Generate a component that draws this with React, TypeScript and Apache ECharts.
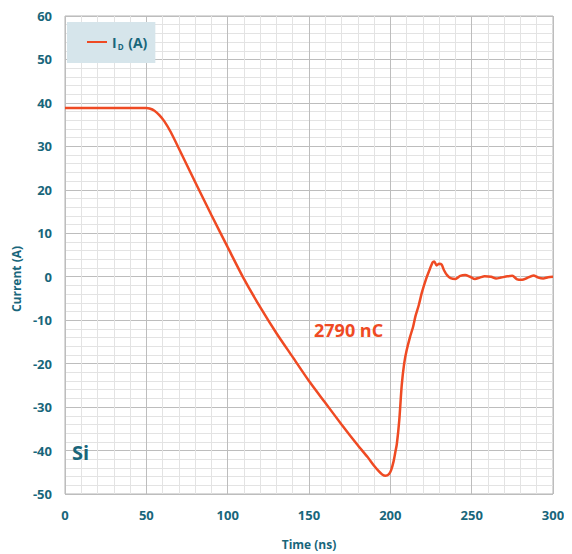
import React, { useEffect, useRef } from "react";
import * as echarts from "echarts";

const timeNs = [
  0, 10, 20, 30, 40, 50, 52, 55, 58, 61, 65, 70, 80, 90, 100, 110, 120, 130, 140, 150,
  160, 170, 180, 186, 190, 193, 195, 197, 199, 200.5, 202, 203, 204, 205.5, 207, 208.5,
  210, 212, 214, 215.5, 217.5, 219.5, 222, 224, 226, 227, 228.5, 230, 231.5, 233, 235,
  237, 240, 243, 246, 249, 252, 255, 258, 262, 265, 268, 272, 275, 278, 281, 284, 288,
  291, 294, 297, 300,
];
const currentA = [
  38.8, 38.8, 38.8, 38.8, 38.8, 38.8, 38.7, 38.2, 37.2, 35.8, 33.3, 29.5, 21.8, 14.2, 6.8,
  -0.5, -7, -13, -18.5, -24, -29, -34, -38.8, -41.5, -43.5, -44.8, -45.5, -45.8, -45.5,
  -44.5, -42.5, -40.5, -38.5, -33, -25, -20, -17, -14, -11.5, -9, -6.5, -3.5, -0.5, 1.5,
  3.3, 3.5, 2.6, 3.0, 2.8, 1.5, 0.3, -0.3, -0.5, 0.2, 0.4, 0.0, -0.5, -0.2, 0.1, 0,
  -0.4, -0.2, 0.1, 0.2, -0.6, -0.7, -0.3, 0.3, -0.2, -0.4, -0.1, 0,
];
const seriesName = "ID (A)";
const chargeLabel = "2790 nC";
const materialLabel = "Si";

const TEAL = "#18667b";
const ORANGE = "#ef4a23";
const FONT = "'Open Sans', 'Noto Sans', sans-serif";

export default function App() {
  const ref = useRef<HTMLDivElement>(null);
  useEffect(() => {
    if (!ref.current) return;
    const chart = echarts.init(ref.current, undefined, { renderer: "svg" });
    const data = timeNs.map((t, i) => [t, currentA[i]]);
    chart.setOption({
      animation: false,
      textStyle: { fontFamily: FONT },
      grid: {
        left: 57,
        top: 8,
        width: 488,
        height: 478,
        show: true,
        borderColor: "#b5b5b5",
        borderWidth: 1,
        outerBoundsMode: "none",
        containLabel: false,
      },
      legend: {
        left: 59,
        top: 14,
        icon: "rect",
        itemWidth: 20,
        itemHeight: 2,
        itemGap: 10,
        padding: [13, 8, 13, 20],
        backgroundColor: "#d6e5eb",
        data: [seriesName],
        formatter: () => "{a|I}{b|D}{a| (A)}",
        textStyle: {
          color: TEAL,
          fontFamily: FONT,
          rich: {
            a: { color: TEAL, fontWeight: "bold", fontSize: 14, fontFamily: FONT },
            b: {
              color: TEAL,
              fontWeight: "bold",
              fontSize: 8,
              fontFamily: FONT,
              verticalAlign: "bottom",
              padding: [8, 1, 0, 1],
            },
          },
        },
      },
      xAxis: {
        type: "value",
        min: 0,
        max: 300,
        interval: 50,
        name: "Time (ns)",
        nameLocation: "middle",
        nameGap: 44,
        nameTextStyle: { color: TEAL, fontWeight: "bold", fontSize: 12, fontFamily: FONT },
        axisLine: { show: false },
        axisTick: { show: false },
        axisLabel: { color: TEAL, fontWeight: "bold", fontSize: 13, margin: 14, fontFamily: FONT },
        splitLine: { show: true, lineStyle: { color: "#bdbdbd", width: 1 } },
        minorTick: { show: false, splitNumber: 5 },
        minorSplitLine: { show: true, lineStyle: { color: "#e3e3e3", width: 1 } },
      },
      yAxis: {
        type: "value",
        min: -50,
        max: 60,
        interval: 10,
        name: "Current (A)",
        nameLocation: "middle",
        nameGap: 40,
        nameRotate: 90,
        nameTextStyle: {
          color: TEAL,
          fontWeight: "bold",
          fontSize: 12,
          fontFamily: FONT,
          padding: [0, 48, 0, 0],
        },
        axisLine: { show: false },
        axisTick: { show: false },
        axisLabel: { color: TEAL, fontWeight: "bold", fontSize: 13, margin: 13, fontFamily: FONT },
        splitLine: { show: true, lineStyle: { color: "#bdbdbd", width: 1 } },
        minorTick: { show: false, splitNumber: 5 },
        minorSplitLine: { show: true, lineStyle: { color: "#e3e3e3", width: 1 } },
      },
      series: [
        {
          name: seriesName,
          type: "line",
          data,
          showSymbol: false,
          smooth: 0.25,
          lineStyle: { color: ORANGE, width: 2.5 },
          itemStyle: { color: ORANGE },
        },
      ],
      graphic: [
        {
          type: "text",
          left: 306,
          top: 313,
          z: 100,
          style: {
            text: chargeLabel,
            fill: ORANGE,
            font: `bold 18px ${FONT}`,
          },
        },
        {
          type: "text",
          left: 64,
          top: 434,
          z: 100,
          style: {
            text: materialLabel,
            fill: TEAL,
            font: `bold 20px ${FONT}`,
          },
        },
      ],
    });
    return () => chart.dispose();
  }, []);
  return <div ref={ref} style={{ width: 556, height: 546 }} />;
}
